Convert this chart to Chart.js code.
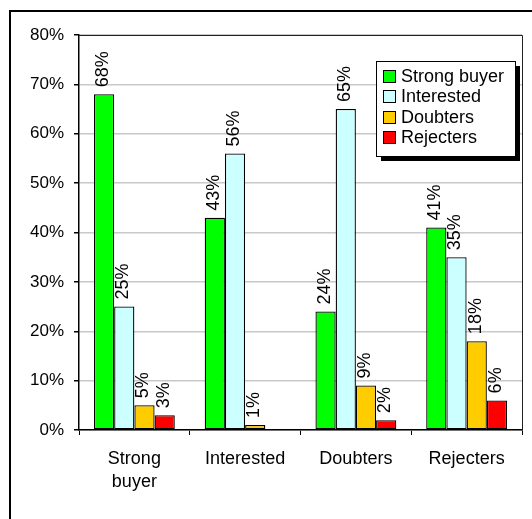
<!DOCTYPE html>
<html>
<head>
<meta charset="utf-8">
<script src="https://cdn.jsdelivr.net/npm/chart.js@4/dist/chart.umd.min.js"></script>
<style>
  html, body { margin: 0; padding: 0; background: #fff; }
  #wrap { width: 532px; height: 519px; position: relative; }
</style>
</head>
<body>
<div id="wrap"><canvas id="c" width="532" height="519"></canvas></div>
<script>
// Survey segments (categories) and the share of each response group within them
const categories = [['Strong', 'buyer'], 'Interested', 'Doubters', 'Rejecters'];
const seriesNames = ['Strong buyer', 'Interested', 'Doubters', 'Rejecters'];
const strongBuyer = [68, 43, 24, 41];
const interested  = [25, 56, 65, 35];
const doubters    = [5, 1, 9, 18];
const rejecters   = [3, 0, 2, 6];
const yTicks = [0, 10, 20, 30, 40, 50, 60, 70, 80];

const seriesColors = ['#00FF00', '#CCFFFF', '#FFCC00', '#FF0000'];
const FONT = '"Liberation Sans", Arial, sans-serif';

const seriesValues = [strongBuyer, interested, doubters, rejecters];

// Outer frame and plot-area border lines
const framePlugin = {
  id: 'frame',
  beforeDraw(chart) {
    const ctx = chart.ctx;
    ctx.save();
    ctx.fillStyle = '#fff';
    ctx.fillRect(0, 0, chart.width, chart.height);
    ctx.strokeStyle = '#000';
    ctx.lineWidth = 2;
    ctx.strokeRect(10, 11, 540, 540);
    ctx.restore();
  },
  afterDatasetsDraw(chart) {
    const { ctx, chartArea: a } = chart;
    ctx.save();
    ctx.strokeStyle = '#222';
    ctx.lineWidth = 1;
    ctx.beginPath();
    ctx.moveTo(a.left, a.top + 0.5);
    ctx.lineTo(a.right + 0.5, a.top + 0.5);
    ctx.lineTo(a.right + 0.5, a.bottom);
    ctx.stroke();
    ctx.restore();
  }
};

// Rotated percentage labels above each bar
const barLabelPlugin = {
  id: 'barLabels',
  afterDatasetsDraw(chart) {
    const ctx = chart.ctx;
    ctx.save();
    ctx.font = '18px ' + FONT;
    ctx.fillStyle = '#000';
    ctx.textAlign = 'left';
    ctx.textBaseline = 'middle';
    chart.data.datasets.forEach((ds, i) => {
      const meta = chart.getDatasetMeta(i);
      meta.data.forEach((bar, j) => {
        const v = ds.data[j];
        if (!v) return;
        ctx.save();
        ctx.translate(bar.x - 1, bar.y - 7);
        ctx.rotate(-Math.PI / 2);
        ctx.fillText(v + '%', 0, 0);
        ctx.restore();
      });
    });
    ctx.restore();
  }
};

// Boxed legend with drop shadow inside the plot area
const legendBoxPlugin = {
  id: 'legendBox',
  afterDraw(chart) {
    const ctx = chart.ctx;
    const x = 376, y = 61, w = 139, h = 95;
    ctx.save();
    ctx.fillStyle = '#000';
    ctx.fillRect(x + 5, y + 5, w, h);
    ctx.fillStyle = '#fff';
    ctx.fillRect(x, y, w, h);
    ctx.strokeStyle = '#000';
    ctx.lineWidth = 1;
    ctx.strokeRect(x + 0.5, y + 0.5, w, h);
    ctx.font = '18px ' + FONT;
    ctx.textAlign = 'left';
    ctx.textBaseline = 'middle';
    chart.data.datasets.forEach((ds, i) => {
      const cy = 76 + i * 20.3;
      ctx.fillStyle = ds.backgroundColor;
      ctx.fillRect(383, Math.round(cy - 6), 12, 12);
      ctx.strokeStyle = '#000';
      ctx.strokeRect(383.5, Math.round(cy - 6) + 0.5, 12, 12);
      ctx.fillStyle = '#000';
      ctx.fillText(ds.label, 401, cy + 1);
    });
    ctx.restore();
  }
};

new Chart(document.getElementById('c'), {
  type: 'bar',
  data: {
    labels: categories,
    datasets: seriesNames.map((name, i) => ({
      label: name,
      data: seriesValues[i],
      backgroundColor: seriesColors[i],
      borderColor: '#000',
      borderWidth: 1.3,
      borderSkipped: false,
      categoryPercentage: 0.73,
      barPercentage: 1.0
    }))
  },
  options: {
    responsive: false,
    animation: false,
    devicePixelRatio: 1,
    layout: { padding: { left: 9, top: 35, right: 10, bottom: 0 } },
    plugins: {
      legend: { display: false },
      tooltip: { enabled: false }
    },
    scales: {
      x: {
        grid: {
          display: true,
          drawOnChartArea: false,
          drawTicks: true,
          tickLength: 5,
          tickColor: '#000',
          offset: true
        },
        border: { display: true, color: '#000', width: 1.5 },
        ticks: {
          color: '#000',
          font: { family: FONT, size: 18, lineHeight: 1.25 },
          padding: 13,
          maxRotation: 0,
          autoSkip: false
        },
        afterFit(axis) { axis.height = 89; }
      },
      y: {
        min: 0,
        max: 80,
        afterBuildTicks(axis) { axis.ticks = yTicks.map(v => ({ value: v })); },
        grid: {
          color: '#C8C8C8',
          lineWidth: 1.5,
          drawTicks: true,
          tickLength: 5,
          tickColor: '#000'
        },
        border: { display: true, color: '#000', width: 1.5 },
        ticks: {
          color: '#000',
          font: { family: FONT, size: 17 },
          padding: 10,
          callback: v => v + '%'
        },
        afterFit(axis) { axis.width = 70; }
      }
    }
  },
  plugins: [framePlugin, barLabelPlugin, legendBoxPlugin]
});
</script>
</body>
</html>
